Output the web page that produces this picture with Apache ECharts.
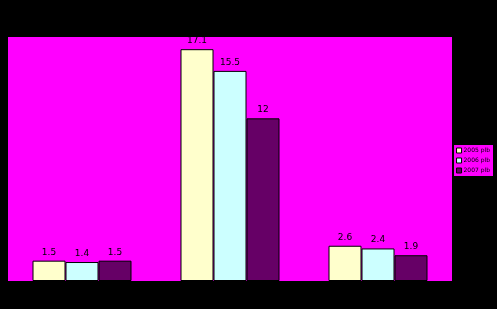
<!DOCTYPE html>
<html><head><meta charset="utf-8">
<script src="https://cdn.jsdelivr.net/npm/echarts@6/dist/echarts.min.js"></script>
<style>html,body{margin:0;padding:0;background:#000;}#c{width:497px;height:309px;}</style>
</head><body><div id="c"></div>
<script>
const categories = ['A', 'B', 'C'];
const seriesNames = ['2005 plb', '2006 plb', '2007 plb'];
const values2005 = [1.5, 17.1, 2.6];
const values2006 = [1.4, 15.5, 2.4];
const values2007 = [1.5, 12, 1.9];
const colors = ['#FFFFCC', '#CCFFFF', '#660066'];
const allValues = [values2005, values2006, values2007];

const chart = echarts.init(document.getElementById('c'), null, {renderer: 'canvas'});
chart.setOption({
  backgroundColor: '#000000',
  animation: false,
  grid: {left: 8, right: 45, top: 37, bottom: 28, show: true, backgroundColor: '#FF00FF', borderWidth: 0},
  legend: {
    orient: 'vertical', right: 4, top: 145,
    backgroundColor: '#FF00FF', padding: [2, 3, 2, 2],
    itemWidth: 5, itemHeight: 5, itemGap: 3,
    textStyle: {fontSize: 6, lineHeight: 7, color: '#000', fontFamily: 'DejaVu Sans', padding: [0, 0, 0, -3]},
    data: seriesNames.map((n, i) => ({name: n, icon: 'rect', itemStyle: {color: colors[i], borderColor: '#000', borderWidth: 1}}))
  },
  xAxis: {type: 'category', data: categories, axisLine: {show: false}, axisTick: {show: false}, axisLabel: {show: false}},
  yAxis: {type: 'value', min: 0, max: 18, splitLine: {show: false}, axisLine: {show: false}, axisTick: {show: false}, axisLabel: {show: false}},
  series: seriesNames.map((n, i) => ({
    name: n, type: 'bar', data: allValues[i],
    barWidth: 33, barGap: '0%',
    itemStyle: {color: colors[i], borderColor: '#000', borderWidth: 1},
    label: {show: true, position: 'top', distance: 4, fontSize: 9, color: '#000', fontFamily: 'DejaVu Sans'}
  }))
});
</script></body></html>
